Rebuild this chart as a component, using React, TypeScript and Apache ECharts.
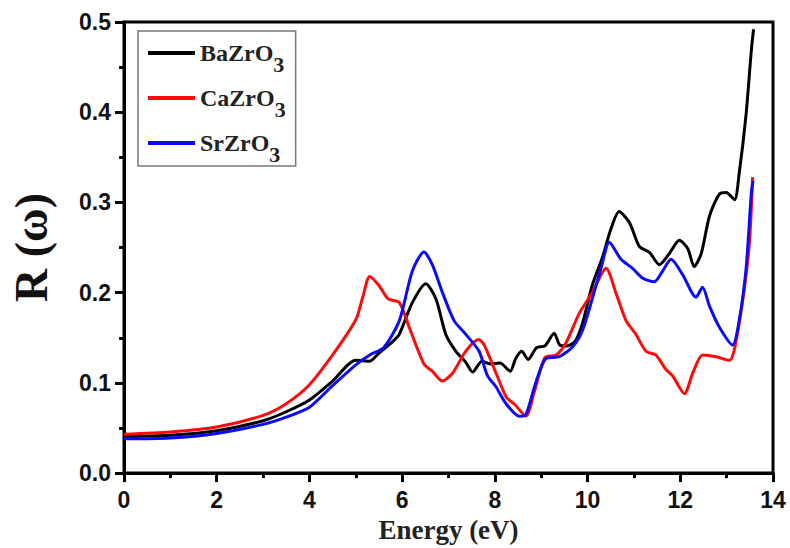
import React, { useEffect, useRef } from "react";
import * as echarts from "echarts";

const xTicks = [0, 2, 4, 6, 8, 10, 12, 14];
const yTicks = [0.0, 0.1, 0.2, 0.3, 0.4, 0.5];

const seriesNames = ["BaZrO3", "CaZrO3", "SrZrO3"];
const seriesColors = ["#000000", "#ff0a0a", "#0a0aff"];

const baEnergy = [0, 1, 2, 3, 3.5, 4, 4.5, 5, 5.3, 5.5, 5.8, 5.94, 6.22, 6.51, 6.73, 6.94, 7.16, 7.37, 7.52, 7.72, 7.9, 8.11, 8.33, 8.45, 8.58, 8.72, 8.9, 9.08, 9.28, 9.4, 9.55, 9.73, 9.89, 10.1, 10.32, 10.5, 10.68, 10.9, 11.12, 11.33, 11.55, 11.76, 11.98, 12.16, 12.3, 12.45, 12.63, 12.84, 12.99, 13.17, 13.27, 13.42, 13.53, 13.58];
const baR = [0.0405, 0.042, 0.047, 0.058, 0.068, 0.081, 0.102, 0.125, 0.124, 0.133, 0.146, 0.154, 0.189, 0.21, 0.193, 0.154, 0.135, 0.123, 0.112, 0.124, 0.121, 0.122, 0.113, 0.127, 0.135, 0.126, 0.139, 0.141, 0.155, 0.142, 0.141, 0.146, 0.166, 0.208, 0.239, 0.27, 0.29, 0.278, 0.251, 0.245, 0.231, 0.243, 0.258, 0.249, 0.229, 0.243, 0.285, 0.309, 0.311, 0.303, 0.332, 0.398, 0.467, 0.492];

const caEnergy = [0, 1, 2, 3, 3.5, 4, 4.5, 5, 5.15, 5.3, 5.5, 5.7, 5.94, 6.15, 6.47, 6.65, 6.87, 7.09, 7.37, 7.65, 7.77, 8.04, 8.25, 8.43, 8.67, 8.85, 9.08, 9.32, 9.53, 9.82, 10.1, 10.4, 10.61, 10.83, 11.04, 11.26, 11.47, 11.69, 11.83, 12.09, 12.27, 12.48, 12.77, 13.06, 13.17, 13.35, 13.49, 13.56];
const caR = [0.043, 0.0455, 0.051, 0.064, 0.077, 0.098, 0.131, 0.17, 0.195, 0.218, 0.208, 0.193, 0.189, 0.162, 0.121, 0.113, 0.102, 0.111, 0.135, 0.148, 0.142, 0.109, 0.084, 0.076, 0.063, 0.09, 0.128, 0.131, 0.144, 0.177, 0.2, 0.227, 0.2, 0.169, 0.154, 0.135, 0.131, 0.115, 0.108, 0.088, 0.111, 0.131, 0.129, 0.125, 0.138, 0.193, 0.254, 0.328];

const srEnergy = [0, 1, 2, 3, 3.5, 4, 4.5, 5, 5.3, 5.6, 5.94, 6.22, 6.47, 6.65, 6.87, 7.12, 7.37, 7.66, 7.84, 8.02, 8.24, 8.53, 8.67, 8.88, 9.1, 9.39, 9.68, 9.89, 10.1, 10.29, 10.47, 10.72, 10.97, 11.19, 11.44, 11.62, 11.8, 12.05, 12.34, 12.48, 12.63, 12.84, 13.13, 13.27, 13.42, 13.53, 13.57];
const srR = [0.038, 0.039, 0.044, 0.054, 0.062, 0.073, 0.097, 0.12, 0.131, 0.139, 0.169, 0.224, 0.245, 0.231, 0.2, 0.169, 0.154, 0.135, 0.108, 0.096, 0.077, 0.063, 0.065, 0.1, 0.127, 0.129, 0.14, 0.158, 0.193, 0.227, 0.256, 0.237, 0.227, 0.216, 0.212, 0.224, 0.237, 0.22, 0.195, 0.206, 0.185, 0.162, 0.142, 0.169, 0.227, 0.309, 0.324];

const xs = [baEnergy, caEnergy, srEnergy];
const ys = [baR, caR, srR];

export default function App() {
  const ref = useRef<HTMLDivElement>(null);
  useEffect(() => {
    document.body.style.margin = "0";
    const chart = echarts.init(ref.current!, null, { renderer: "svg" });
    const labelFont = {
      fontFamily: "'Liberation Sans', Arial, sans-serif",
      fontWeight: "bold" as const,
      fontSize: 23,
      color: "#111",
    };
    const serif = "'Liberation Serif', 'Times New Roman', serif";
    chart.setOption({
      animation: false,
      backgroundColor: "#fff",
      grid: {
        left: 124,
        right: 17,
        top: 22,
        bottom: 72,
        show: true,
        borderColor: "#000",
        borderWidth: 3,
      },
      legend: {
        orient: "vertical",
        left: 138,
        top: 31,
        padding: [0, 10, 1, 10],
        itemGap: 1,
        itemWidth: 47,
        itemHeight: 4,
        icon: "rect",
        borderColor: "#777",
        borderWidth: 1.5,
        data: seriesNames,
        formatter: (name: string) => `{a|${name.slice(0, -1)}}{b|${name.slice(-1)}}`,
        textStyle: {
          rich: {
            a: { fontFamily: serif, fontWeight: "bold", fontSize: 24, lineHeight: 24, color: "#222" },
            b: { fontFamily: serif, fontWeight: "bold", fontSize: 22, lineHeight: 22, padding: [22, 0, 0, 0], color: "#222" },
          },
        },
      },
      xAxis: {
        type: "value",
        min: xTicks[0],
        max: xTicks[xTicks.length - 1],
        interval: xTicks[1] - xTicks[0],
        name: "Energy (eV)",
        nameLocation: "middle",
        nameGap: 42,
        nameTextStyle: { fontFamily: serif, fontWeight: "bold", fontSize: 27, color: "#222" },
        axisLine: { show: true, lineStyle: { color: "#000", width: 3 } },
        axisTick: { show: true, inside: false, length: 9, lineStyle: { color: "#000", width: 3 } },
        minorTick: { show: true, splitNumber: 2, length: 5, lineStyle: { color: "#000", width: 3 } },
        splitLine: { show: false },
        axisLabel: { ...labelFont, margin: 15 },
      },
      yAxis: {
        type: "value",
        min: yTicks[0],
        max: yTicks[yTicks.length - 1],
        interval: 0.1,
        name: "R (ω)",
        nameLocation: "middle",
        nameRotate: 90,
        nameGap: 70,
        nameTextStyle: { fontFamily: serif, fontWeight: "bold", fontSize: 46, color: "#111" },
        axisLine: { show: true, lineStyle: { color: "#000", width: 3 } },
        axisTick: { show: true, inside: false, length: 9, lineStyle: { color: "#000", width: 3 } },
        minorTick: { show: true, splitNumber: 2, length: 5, lineStyle: { color: "#000", width: 3 } },
        splitLine: { show: false },
        axisLabel: { ...labelFont, margin: 13, formatter: (v: number) => v.toFixed(1) },
      },
      series: seriesNames.map((name, i) => ({
        name,
        type: "line",
        showSymbol: false,
        symbol: "none",
        smooth: 0.25,
        color: seriesColors[i],
        lineStyle: { color: seriesColors[i], width: 3 },
        data: xs[i].map((x, j) => [x, ys[i][j]]),
        z: 2 + i,
      })),
    });
    return () => chart.dispose();
  }, []);
  return <div ref={ref} style={{ width: 790, height: 548 }} />;
}
